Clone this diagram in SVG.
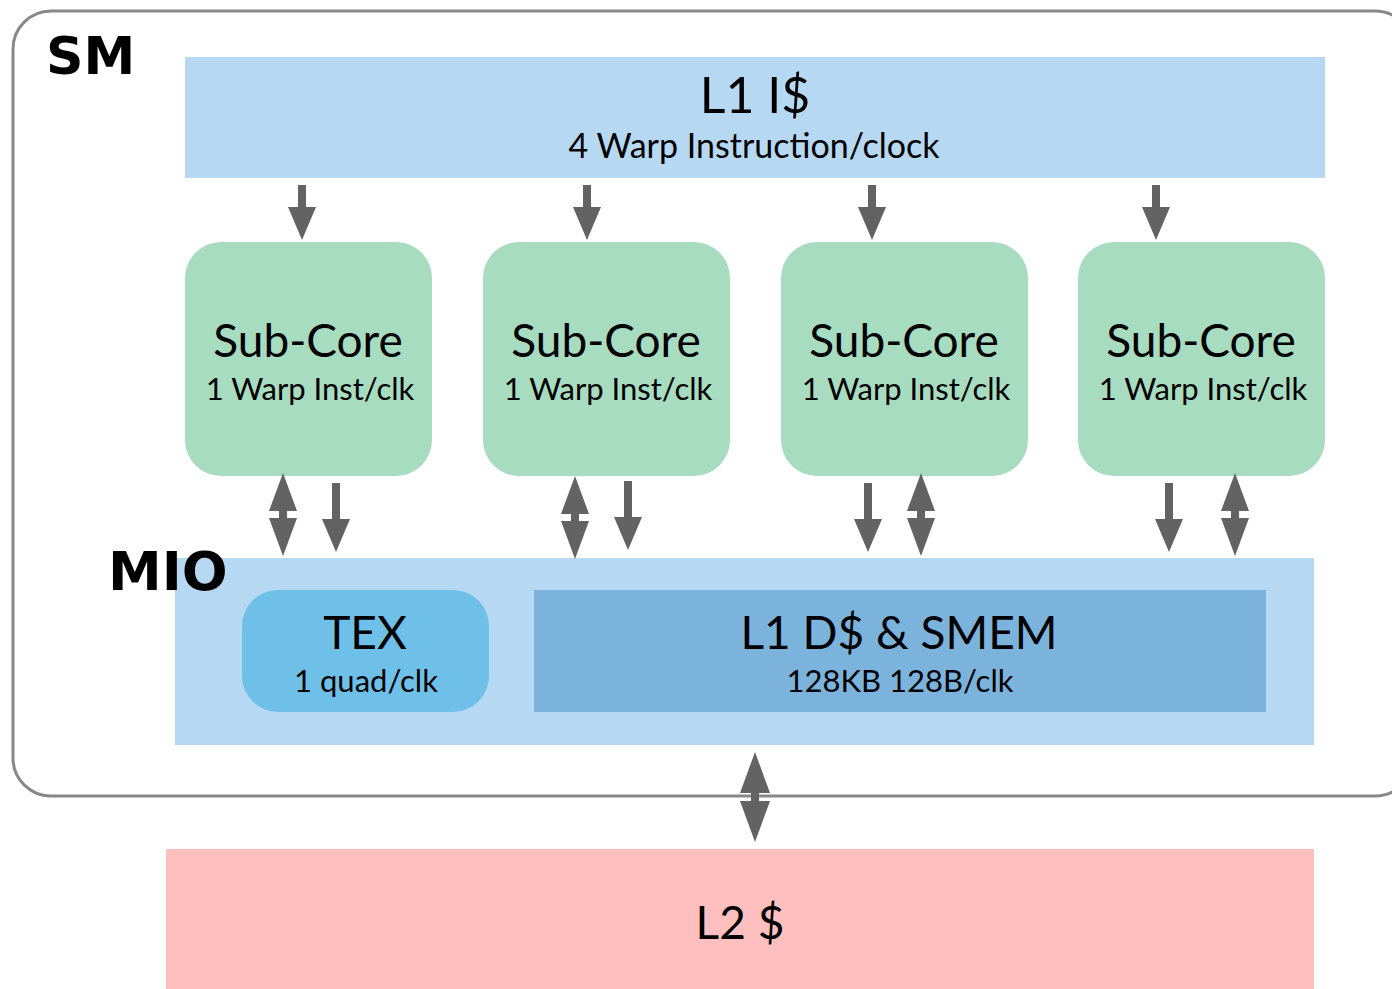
<svg xmlns="http://www.w3.org/2000/svg" width="1392" height="989" viewBox="0 0 1392 989">
<defs>
<style>
.t{font-family:Lato,"Open Sans","Liberation Sans",sans-serif;fill:#000;text-anchor:middle}
.big{font-size:46px}
.sm{font-size:31px}
.lbl{font-family:"DejaVu Sans","Liberation Sans",sans-serif;font-weight:900;fill:#000}
.arr{fill:#636363}
</style>
<path id="down" d="M-4,0 H4 V22 H14 L0,55 L-14,22 H-4 Z"/>
<path id="down2" d="M-4,0 H4 V36 H14 L0,69 L-14,36 H-4 Z"/>
<path id="dbl" d="M0,0 L14,38 H4 V45 H14 L0,83 L-14,45 H-4 V38 H-14 Z"/>
<path id="dbl2" d="M0,0 L15,41 H4 V49 H15 L0,90 L-15,49 H-4 V41 H-15 Z"/>
</defs>
<rect x="0" y="0" width="1392" height="989" fill="#fff"/>
<g id="sm">
<rect x="13" y="11" width="1400" height="785" rx="38" fill="#fff" stroke="#888" stroke-width="3"/>
<text class="lbl" x="46" y="74" font-size="52">SM</text>
</g>
<g id="l1i">
<rect x="185" y="57" width="1140" height="121" fill="#b7d8f2"/>
<text class="t" x="755" y="113" font-size="50">L1 I$</text>
<text class="t" x="754" y="158" font-size="34">4 Warp Instruction/clock</text>
</g>
<g id="core1">
<rect x="185" y="242" width="247" height="234" rx="36" fill="#a8dcc0"/>
<text class="t big" x="308" y="357">Sub-Core</text>
<text class="t sm" x="310" y="400">1 Warp Inst/clk</text>
</g>
<g id="core2">
<rect x="483" y="242" width="247" height="234" rx="36" fill="#a8dcc0"/>
<text class="t big" x="606" y="357">Sub-Core</text>
<text class="t sm" x="608" y="400">1 Warp Inst/clk</text>
</g>
<g id="core3">
<rect x="781" y="242" width="247" height="234" rx="36" fill="#a8dcc0"/>
<text class="t big" x="904" y="357">Sub-Core</text>
<text class="t sm" x="906" y="400">1 Warp Inst/clk</text>
</g>
<g id="core4">
<rect x="1078" y="242" width="247" height="234" rx="36" fill="#a8dcc0"/>
<text class="t big" x="1201" y="357">Sub-Core</text>
<text class="t sm" x="1203" y="400">1 Warp Inst/clk</text>
</g>
<g id="mio">
<rect x="175" y="558" width="1139" height="187" fill="#b7d8f2"/>
<text class="lbl" x="108" y="590" font-size="54">MIO</text>
</g>
<g id="tex">
<rect x="242" y="590" width="247" height="122" rx="36" fill="#6fc0e8"/>
<text class="t big" x="365" y="649">TEX</text>
<text class="t sm" x="366" y="692">1 quad/clk</text>
</g>
<g id="l1d">
<rect x="534" y="590" width="732" height="122" fill="#7bb3dc"/>
<text class="t big" x="899" y="649">L1 D$ &amp; SMEM</text>
<text class="t sm" x="900" y="692">128KB 128B/clk</text>
</g>
<g id="l2">
<rect x="166" y="849" width="1148" height="140" fill="#ffbfbf"/>
<text class="t big" x="740" y="939">L2 $</text>
</g>
<g id="connectors" class="arr">
<use href="#down" x="302" y="185"/>
<use href="#down" x="587" y="185"/>
<use href="#down" x="872" y="185"/>
<use href="#down" x="1156" y="185"/>
<use href="#dbl" x="283" y="473"/>
<use href="#down2" x="336" y="483"/>
<use href="#dbl" x="575" y="476"/>
<use href="#down2" x="628" y="481"/>
<use href="#down2" x="868" y="483"/>
<use href="#dbl" x="921" y="473"/>
<use href="#down2" x="1169" y="483"/>
<use href="#dbl" x="1235" y="473"/>
<use href="#dbl2" x="755" y="752"/>
</g>
</svg>
